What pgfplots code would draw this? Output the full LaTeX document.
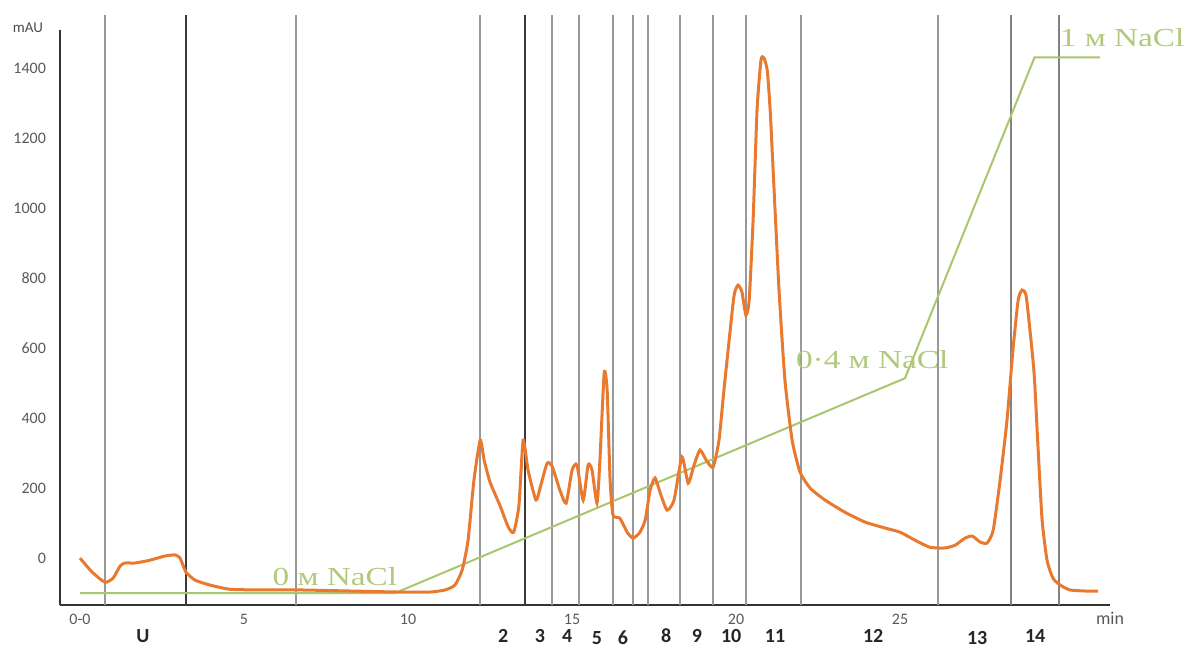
\documentclass[border=0pt]{standalone}
\usepackage{pgfplots}
\pgfplotsset{compat=1.18}
\usepackage{fontspec}
\setmainfont{Carlito}
\newfontfamily\saltfont[FakeStretch=1.28]{Liberation Serif}

\definecolor{trace}{HTML}{E8792F}
\definecolor{salt}{HTML}{A9C66A}
\definecolor{salttext}{HTML}{B2C97C}
\definecolor{frac}{HTML}{999999}
\definecolor{fracdark}{HTML}{3A3A3A}

\begin{document}
\begin{tikzpicture}
\begin{axis}[
  name=ax,
  scale only axis, width=525pt, height=287.5pt,
  xmin=-0.61, xmax=31.40, ymin=-134, ymax=1509,
  axis x line=bottom, axis y line=left,
  axis line style={-, line width=1.3pt, color=black!80},
  xtick={0,5,10,15,20,25}, xticklabels={0-0,5,10,15,20,25},
  ytick={0,200,...,1400},
  major tick length=0pt,
  /pgf/number format/assume math mode=true,
  /pgf/number format/1000 sep={},
  tick label style={font=\fontsize{8}{9}\selectfont, text=black!65},
  yticklabel style={xshift=-3.5pt},
  xticklabel style={yshift=-1pt},
  clip=false,
]

% fraction boundaries
\addplot[frac, line width=1pt] coordinates {(0.76,-134) (0.76,1551)};
\addplot[fracdark, line width=1.1pt] coordinates {(3.23,-134) (3.23,1551)};
\addplot[frac, line width=1pt] coordinates {(6.59,-134) (6.59,1551)};
\addplot[frac, line width=1pt] coordinates {(12.20,-134) (12.20,1551)};
\addplot[fracdark, line width=1.1pt] coordinates {(13.57,-134) (13.57,1551)};
\addplot[frac, line width=1pt] coordinates {(14.39,-134) (14.39,1551)};
\addplot[frac, line width=1pt] coordinates {(15.21,-134) (15.21,1551)};
\addplot[frac, line width=1pt] coordinates {(16.25,-134) (16.25,1551)};
\addplot[frac, line width=1pt] coordinates {(16.86,-134) (16.86,1551)};
\addplot[frac, line width=1pt] coordinates {(17.32,-134) (17.32,1551)};
\addplot[frac, line width=1pt] coordinates {(18.29,-134) (18.29,1551)};
\addplot[frac, line width=1pt] coordinates {(19.30,-134) (19.30,1551)};
\addplot[frac, line width=1pt] coordinates {(20.30,-134) (20.30,1551)};
\addplot[frac, line width=1pt] coordinates {(21.98,-134) (21.98,1551)};
\addplot[frac, line width=1pt] coordinates {(26.16,-134) (26.16,1551)};
\addplot[frac!85!black, line width=1pt] coordinates {(28.38,-134) (28.38,1551)};
\addplot[frac!85!black, line width=1pt] coordinates {(29.85,-134) (29.85,1551)};

% NaCl gradient
\addplot[salt, line width=1pt] coordinates {
  (0,-100) (9.6,-100) (25.15,514) (29.1,1431) (31.1,1431)};

% UV absorbance trace
\addplot[trace, line width=1.5pt, smooth, tension=0.35] coordinates {
  (0.00,0) (0.37,-40) (0.76,-69) (1.01,-57) (1.22,-23) (1.37,-14)
  (1.68,-14) (2.13,-6) (2.59,6) (2.90,9) (3.05,0) (3.23,-40)
  (3.51,-63) (3.96,-77) (4.57,-89) (5.49,-91) (6.71,-91) (8.23,-94)
  (9.76,-97) (10.67,-97) (11.13,-91) (11.43,-77) (11.65,-34) (11.83,51)
  (12.01,223) (12.20,337) (12.32,280) (12.50,217) (12.80,151) (13.05,90)
  (13.22,74) (13.38,150) (13.51,337) (13.66,251) (13.90,166) (14.05,209)
  (14.24,271) (14.39,263) (14.63,194) (14.82,157) (15.00,251) (15.15,266)
  (15.34,166) (15.49,266) (15.61,251) (15.76,157) (15.85,280) (15.98,529)
  (16.07,480) (16.16,223) (16.25,123) (16.46,114) (16.68,74) (16.86,57)
  (17.07,74) (17.23,109) (17.38,194) (17.53,229) (17.71,180) (17.90,137)
  (18.11,166) (18.35,289) (18.54,214) (18.72,266) (18.90,309) (19.09,280)
  (19.30,260) (19.48,337) (19.63,480) (19.79,623) (19.94,751) (20.06,780)
  (20.18,760) (20.30,694) (20.40,737) (20.52,966) (20.64,1280) (20.76,1423)
  (20.85,1429) (20.95,1394) (21.04,1280) (21.16,1051) (21.31,766) (21.49,509)
  (21.71,337) (21.95,246) (22.26,200) (22.71,166) (23.32,131) (23.93,103)
  (24.54,86) (25.00,74) (25.46,51) (25.91,31) (26.37,29) (26.68,37)
  (26.98,57) (27.20,63) (27.44,46) (27.65,43) (27.84,80) (28.05,223)
  (28.26,394) (28.44,594) (28.60,737) (28.72,766) (28.84,751) (28.96,651)
  (29.09,523) (29.21,309) (29.33,109) (29.48,-6) (29.66,-57) (29.88,-77)
  (30.18,-91) (30.64,-94) (31.04,-94)};

% salt concentration labels
\node[text=salttext, font=\saltfont\fontsize{13}{14}\selectfont] at (axis cs:7.77,-54) {0 м NaCl};
\node[text=salttext, font=\saltfont\fontsize{13}{14}\selectfont] at (axis cs:24.15,566) {0·4 м NaCl};
\node[text=salttext, font=\saltfont\fontsize{13}{14}\selectfont] at (axis cs:31.77,1486) {1 м NaCl};

% axis units
\node[text=black!70, font=\fontsize{7.5}{8}\selectfont] at ([xshift=-16pt,yshift=1pt]rel axis cs:0,1) {mAU};
\node[text=black!65, font=\fontsize{9}{10}\selectfont] at ([yshift=-6.5pt]rel axis cs:1,0) {min};

% fraction numbers
\begin{scope}[every node/.style={font=\bfseries\fontsize{10}{11}\selectfont, text=black!85}]
\node at ([yshift=-15.5pt]axis cs:1.92,-134) {U};
\node at ([yshift=-15.5pt]axis cs:12.90,-134) {2};
\node at ([yshift=-15.5pt]axis cs:14.02,-134) {3};
\node at ([yshift=-15.5pt]axis cs:14.85,-134) {4};
\node at ([yshift=-16.5pt]axis cs:15.76,-134) {5};
\node at ([yshift=-16.5pt]axis cs:16.55,-134) {6};
\node at ([yshift=-15.5pt]axis cs:17.87,-134) {8};
\node at ([yshift=-15.5pt]axis cs:18.81,-134) {9};
\node at ([yshift=-15.5pt]axis cs:19.85,-134) {10};
\node at ([yshift=-15.5pt]axis cs:21.19,-134) {11};
\node at ([yshift=-15.5pt]axis cs:24.18,-134) {12};
\node at ([yshift=-16.5pt]axis cs:27.35,-134) {13};
\node at ([yshift=-15.5pt]axis cs:29.12,-134) {14};
\end{scope}
\end{axis}
\pgfresetboundingbox
\path ([shift={(-30pt,-22pt)}]ax.south west) rectangle ([shift={(39.5pt,15pt)}]ax.north east);
\end{tikzpicture}
\end{document}
